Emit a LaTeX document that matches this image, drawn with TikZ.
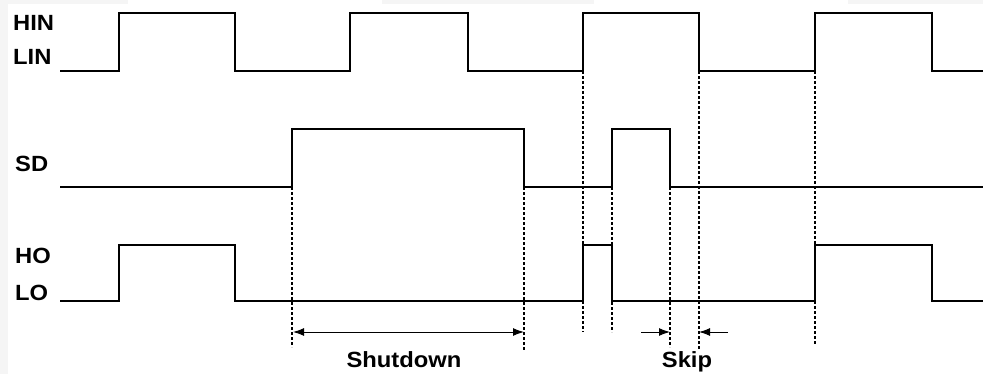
\documentclass[tikz,border=0pt]{standalone}
\usepackage{fontspec}
\setmainfont{Liberation Sans}
\usetikzlibrary{arrows.meta}
\tikzset{
  wave/.style={line width=2.6pt, line join=miter, black},
  guide/.style={line width=1.1pt, dash pattern=on 3pt off 2pt, black},
  dimarrow/.style={line width=1pt, -{Latex[length=11pt,width=8pt]}},
  dimboth/.style={line width=1pt, {Latex[length=11pt,width=8pt]}-{Latex[length=11pt,width=8pt]}},
  lbl/.style={font=\fontsize{22}{26}\selectfont\bfseries, inner sep=0pt, xscale=1.08},
  bgstrip/.style={fill=black!4, draw=none}
}
\begin{document}
\begin{tikzpicture}[x=1pt,y=-1pt]
\useasboundingbox (0,0) rectangle (983,374);
\fill[white] (0,0) rectangle (983,374);
% faint grey frame pieces
\fill[bgstrip] (0,0) rectangle (8,374);
\fill[bgstrip] (0,0) rectangle (128,4);
\fill[bgstrip] (382,0) rectangle (594,4);
\fill[bgstrip] (848,0) rectangle (983,4);

% labels
\node[lbl, anchor=base west] (hin) at (13,31) {HIN};
\node[lbl, anchor=base west] (lin) at (13,65) {LIN};
\node[lbl, anchor=base west] (sd)  at (15,172) {SD};
\node[lbl, anchor=base west] (ho)  at (15,264) {HO};
\node[lbl, anchor=base west] (lo)  at (15,300) {LO};

% guide lines
\draw[guide] (292,187) -- (292,347);
\draw[guide] (524,187) -- (524,350);
\draw[guide] (583,71) -- (583,332);
\draw[guide] (612,187) -- (612,332);
\draw[guide] (670,187) -- (670,347);
\draw[guide] (699,71) -- (699,352);
\draw[guide] (815,71) -- (815,345);

% HIN / LIN waveform
\draw[wave] (60,71) -- (119,71) -- (119,13) -- (235,13) -- (235,71)
  -- (350,71) -- (350,13) -- (468,13) -- (468,71)
  -- (583,71) -- (583,13) -- (699,13) -- (699,71)
  -- (815,71) -- (815,13) -- (932,13) -- (932,71) -- (983,71);

% SD waveform
\draw[wave] (60,187) -- (292,187) -- (292,129) -- (524,129) -- (524,187)
  -- (612,187) -- (612,129) -- (670,129) -- (670,187) -- (983,187);

% HO / LO waveform
\draw[wave] (60,301) -- (119,301) -- (119,245) -- (235,245) -- (235,301)
  -- (583,301) -- (583,245) -- (612,245) -- (612,301)
  -- (815,301) -- (815,245) -- (932,245) -- (932,301) -- (983,301);

% dimension arrows
\coordinate (shA) at (293,332);
\coordinate (shB) at (524,332);
\draw[dimboth] (shA) -- (shB);
\node[lbl, anchor=base] (shut) at (404,367) {Shutdown};

\coordinate (skL0) at (641,332);
\coordinate (skL1) at (670,332);
\coordinate (skR0) at (728,332);
\coordinate (skR1) at (699,332);
\draw[dimarrow] (skL0) -- (skL1);
\draw[dimarrow] (skR0) -- (skR1);
\node[lbl, anchor=base, fill=white, inner sep=0.5pt] (skip) at (687,367) {Skip};
\end{tikzpicture}
\end{document}
